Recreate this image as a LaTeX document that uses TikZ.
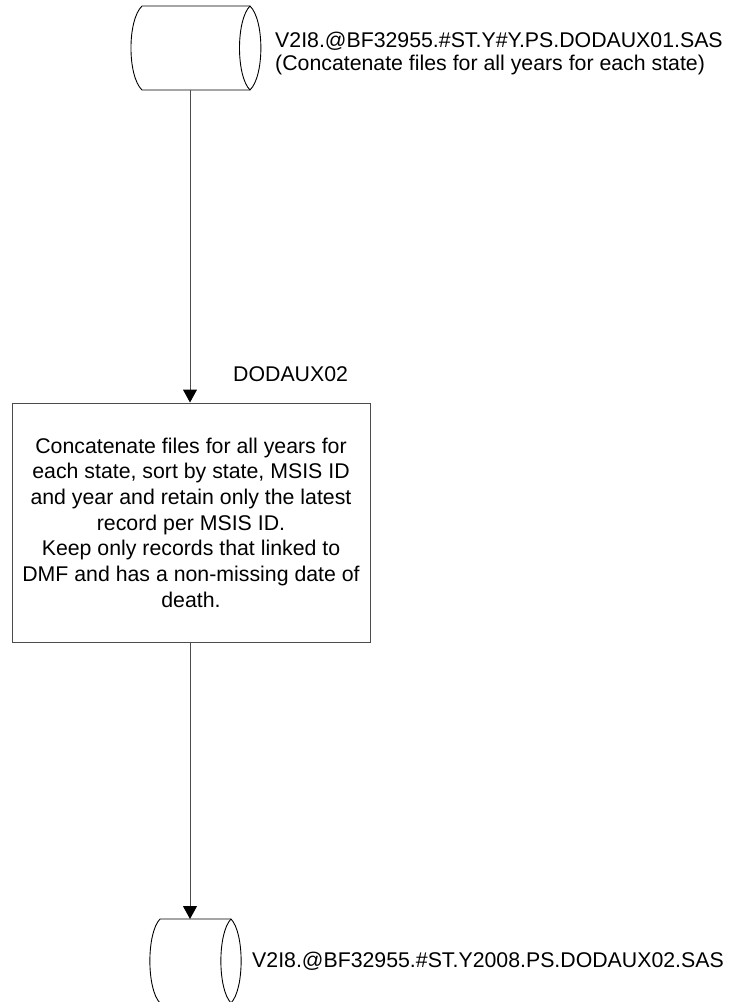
\documentclass[tikz,border=0pt]{standalone}
\usepackage{fontspec}
\setmainfont{Liberation Sans}
\usetikzlibrary{arrows.meta}
\tikzset{
  storeline/.style={draw=black, line width=0.9pt},
  procbox/.style={draw=black!70, line width=1pt, minimum width=358pt, minimum height=239pt, inner sep=0pt, align=center, font=\fontsize{21.3}{25.7}\selectfont},
  lbl/.style={inner sep=0pt, align=left, font=\fontsize{21.3}{23.3}\selectfont},
  flow/.style={draw=black!70, line width=1pt, -{Triangle[width=14pt,length=13pt,fill=black,color=black]}}
}
\begin{document}
\begin{tikzpicture}[x=1pt,y=-1pt]
\useasboundingbox (0,0) rectangle (736,1002);
% top storage
\draw[storeline] (142,6) -- (250,6)
  .. controls (264.5,20) and (264.5,76) .. (250,90) -- (142,90)
  .. controls (127.3,76) and (127.3,20) .. (142,6);
\draw[storeline] (250,6) .. controls (236,20) and (236,76) .. (250,90);
\coordinate (topout) at (190,90);
\node[lbl, anchor=north west] (toplbl) at (275,31.5) {V2I8.@BF32955.\#ST.Y\#Y.PS.DODAUX01.SAS\\(Concatenate files for all years for each state)};
% process box
\node[procbox] (proc) at (191,522.5) {Concatenate files for all years for\\each state, sort by state, MSIS ID\\and year and retain only the latest\\record per MSIS ID.\\Keep only records that linked to\\DMF and has a non-missing date of\\death.};
\node[lbl, anchor=base west] (proclbl) at (233,381) {DODAUX02};
% bottom storage
\begin{scope}
\clip (0,0) rectangle (736,1002);
\draw[storeline] (160,919) -- (231,919)
  .. controls (244.5,933) and (244.5,989) .. (231,1003) -- (160,1003)
  .. controls (146.5,989) and (146.5,933) .. (160,919);
\draw[storeline] (231,919) .. controls (217.5,933) and (217.5,989) .. (231,1003);
\end{scope}
\coordinate (botin) at (190,919);
\node[lbl, anchor=base west] (botlbl) at (252,967) {V2I8.@BF32955.\#ST.Y2008.PS.DODAUX02.SAS};
% connectors
\draw[flow] (topout) -- (topout |- proc.north);
\draw[flow] (proc.south -| botin) -- (botin);
\end{tikzpicture}
\end{document}
